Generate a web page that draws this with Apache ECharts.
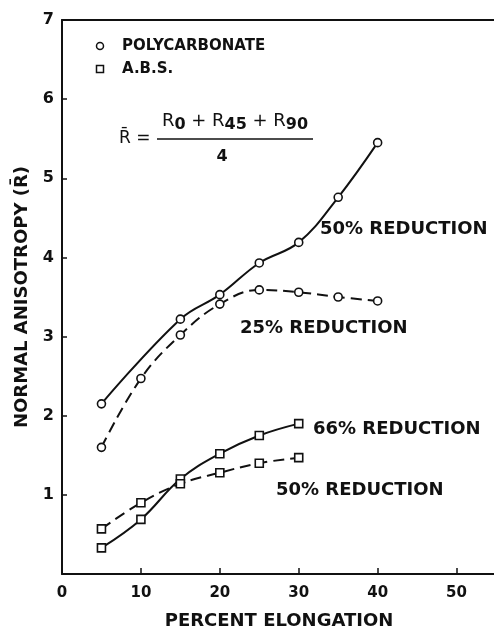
<!DOCTYPE html>
<html><head><meta charset="utf-8">
<script src="https://cdn.jsdelivr.net/npm/echarts@6/dist/echarts.min.js"></script>
<style>html,body{margin:0;padding:0;background:#fff}#c{width:494px;height:628px}</style>
</head><body><div id="c"></div>
<script>
// Data
const xTicks = [0, 10, 20, 30, 40, 50];
const yTicks = [1, 2, 3, 4, 5, 6, 7];
const pc50x = [5, 15, 20, 25, 30, 35, 40];
const pc50y = [2.15, 3.22, 3.53, 3.93, 4.19, 4.76, 5.45];
const pc25x = [5, 10, 15, 20, 25, 30, 35, 40];
const pc25y = [1.60, 2.47, 3.02, 3.41, 3.59, 3.56, 3.50, 3.45];
const abs66x = [5, 10, 15, 20, 25, 30];
const abs66y = [0.33, 0.69, 1.20, 1.52, 1.75, 1.90];
const abs50x = [5, 10, 15, 20, 25, 30];
const abs50y = [0.57, 0.90, 1.14, 1.28, 1.40, 1.47];
const curveLabels = ['50% REDUCTION', '25% REDUCTION', '66% REDUCTION', '50% REDUCTION'];
const legendNames = ['POLYCARBONATE', 'A.B.S.'];

const zip = (xs, ys) => xs.map((x, i) => [x, ys[i]]);
const FONT = 'DejaVu Sans';
const INK = '#111';

function series(name, xs, ys, symbol, dashed) {
  return {
    name, type: 'line', data: zip(xs, ys), smooth: 0.4,
    symbol, symbolSize: 8,
    showAllSymbol: true,
    lineStyle: {color: INK, width: 2, type: dashed ? [11, 6] : 'solid'},
    itemStyle: {color: '#fff', borderColor: INK, borderWidth: 1.6},
    z: 3
  };
}

function label(text, x, y, size) {
  return {type: 'text', x, y, style: {text, font: 'bold ' + size + 'px "DejaVu Sans"', fill: INK, verticalAlign: 'middle'}};
}

const chart = echarts.init(document.getElementById('c'), null, {renderer: 'canvas'});
chart.setOption({
  backgroundColor: '#fff',
  animation: false,
  grid: {left: 62, top: 20, width: 434, height: 554, containLabel: false, outerBoundsMode: 'none'},
  xAxis: [{
    type: 'value', min: 0, max: 55, interval: 10, position: 'bottom',
    axisLine: {lineStyle: {color: INK, width: 2}},
    axisTick: {inside: true, length: 6, lineStyle: {color: INK, width: 1.5}},
    axisLabel: {margin: 12, fontFamily: FONT, fontWeight: 'bold', fontSize: 15, color: INK,
      formatter: v => xTicks.includes(v) ? String(v) : ''},
    splitLine: {show: false},
    name: 'PERCENT ELONGATION', nameLocation: 'middle', nameGap: 38,
    nameTextStyle: {fontFamily: FONT, fontWeight: 'bold', fontSize: 18, color: INK}
  }, {
    type: 'value', min: 0, max: 55, position: 'top',
    axisLine: {show: true, lineStyle: {color: INK, width: 2}},
    axisTick: {show: false}, axisLabel: {show: false}, splitLine: {show: false}
  }],
  yAxis: {
    type: 'value', min: 0, max: 7, interval: 1,
    axisLine: {lineStyle: {color: INK, width: 2}},
    axisTick: {inside: true, length: 5, lineStyle: {color: INK, width: 1.5}},
    axisLabel: {margin: 8, fontFamily: FONT, fontWeight: 'bold', fontSize: 16, color: INK,
      formatter: v => yTicks.includes(v) ? String(v) : ''},
    splitLine: {show: false},
    name: 'NORMAL ANISOTROPY (R\u0304)', nameLocation: 'middle', nameGap: 31, nameRotate: 90,
    nameTextStyle: {fontFamily: FONT, fontWeight: 'bold', fontSize: 18, color: INK}
  },
  series: [
    series('POLYCARBONATE 50%', pc50x, pc50y, 'circle', false),
    series('POLYCARBONATE 25%', pc25x, pc25y, 'circle', true),
    series('A.B.S. 66%', abs66x, abs66y, 'rect', false),
    series('A.B.S. 50%', abs50x, abs50y, 'rect', true)
  ],
  graphic: [
    // legend
    {type: 'circle', shape: {cx: 100, cy: 46, r: 3.5}, style: {fill: '#fff', stroke: INK, lineWidth: 1.5}},
    label(legendNames[0], 122, 46, 15),
    {type: 'rect', shape: {x: 96.5, y: 65.5, width: 7, height: 7}, style: {fill: '#fff', stroke: INK, lineWidth: 1.5}},
    label(legendNames[1], 122, 69, 15),
    // formula
    {type: 'text', x: 119, y: 139, style: {text: 'R\u0304 =', font: '17px "DejaVu Sans"', fill: INK, verticalAlign: 'middle'}},
    {type: 'text', x: 235, y: 121, style: {
      text: 'R{s|0} + R{s|45} + R{s|90}', align: 'center', verticalAlign: 'middle',
      font: '18px "DejaVu Sans"', fill: INK,
      rich: {s: {fontFamily: FONT, fontWeight: 'bold', fontSize: 16, padding: [8, 0, 0, 0], fill: INK}}
    }},
    {type: 'line', shape: {x1: 157, y1: 139, x2: 313, y2: 139}, style: {stroke: INK, lineWidth: 1.3}},
    {type: 'text', x: 222, y: 157, style: {text: '4', font: 'bold 16px "DejaVu Sans"', fill: INK, align: 'center', verticalAlign: 'middle'}},
    // curve labels
    label(curveLabels[0], 320, 229, 18),
    label(curveLabels[1], 240, 328, 18),
    label(curveLabels[2], 313, 429, 18),
    label(curveLabels[3], 276, 490, 18)
  ]
});
</script></body></html>
